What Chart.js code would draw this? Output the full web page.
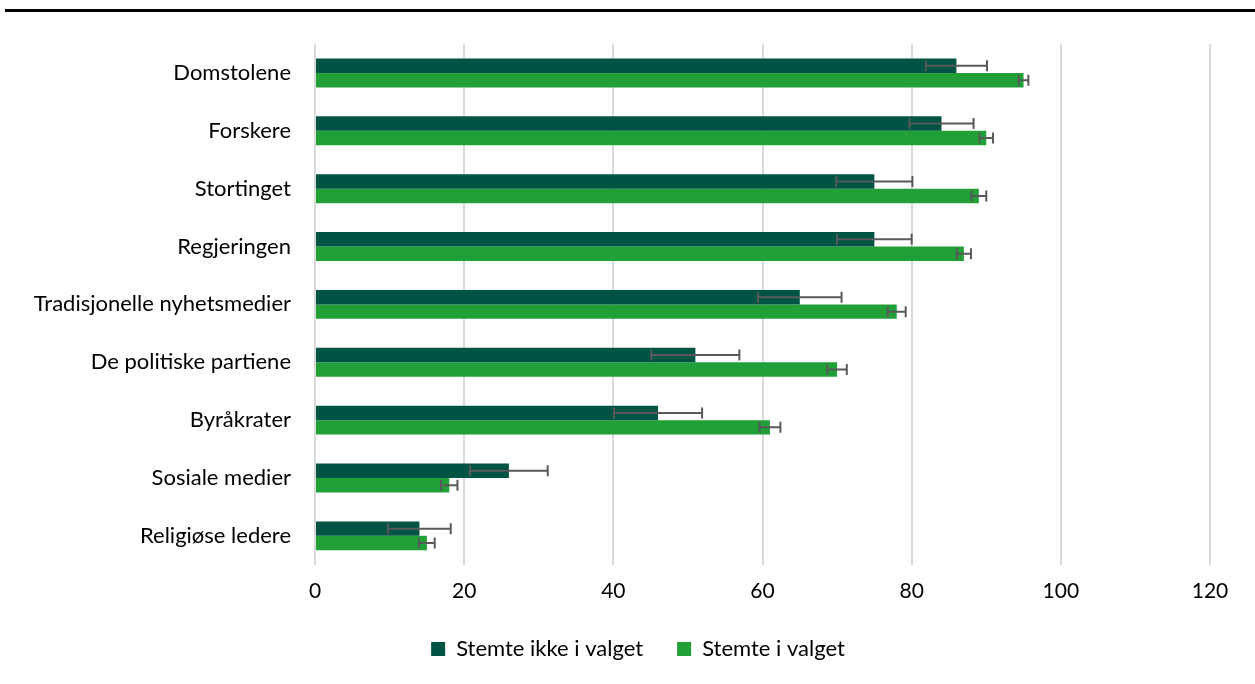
<!DOCTYPE html>
<html>
<head>
<meta charset="utf-8">
<style>
  html, body { margin: 0; padding: 0; background: #fff; }
  #wrap { position: relative; width: 1255px; height: 684px; }
</style>
<script src="https://cdn.jsdelivr.net/npm/chart.js@4.4.0/dist/chart.umd.min.js"></script>
</head>
<body>
<div id="wrap"><canvas id="chart" width="1255" height="684"></canvas></div>
<script>
// data
const categories = ['Domstolene', 'Forskere', 'Stortinget', 'Regjeringen', 'Tradisjonelle nyhetsmedier',
  'De politiske partiene', 'Byråkrater', 'Sosiale medier', 'Religiøse ledere'];
const ikkeStemt = [86, 84, 75, 75, 65, 51, 46, 26, 14];
const ikkeStemtErr = [4.1, 4.3, 5.1, 5.0, 5.6, 5.9, 5.9, 5.2, 4.2];
const stemt = [95, 90, 89, 87, 78, 70, 61, 18, 15];
const stemtErr = [0.65, 0.9, 1.0, 0.95, 1.2, 1.3, 1.4, 1.1, 1.05];
const xTicks = [0, 20, 40, 60, 80, 100, 120];

const fontFam = 'Lato, "Open Sans", sans-serif';

// tegner feilstolper for hver stolpe
const errorBars = {
  id: 'errorBars',
  afterDatasetsDraw(chart) {
    const ctx = chart.ctx;
    const x = chart.scales.x;
    chart.data.datasets.forEach((ds, i) => {
      const meta = chart.getDatasetMeta(i);
      meta.data.forEach((bar, j) => {
        const v = ds.data[j], e = ds.errors[j];
        const x1 = x.getPixelForValue(v - e);
        const x2 = x.getPixelForValue(v + e);
        const y = bar.y;
        ctx.save();
        ctx.strokeStyle = '#595959';
        ctx.lineWidth = 2;
        ctx.beginPath();
        ctx.moveTo(x1, y); ctx.lineTo(x2, y);
        ctx.moveTo(x1, y - 5.5); ctx.lineTo(x1, y + 5.5);
        ctx.moveTo(x2, y - 5.5); ctx.lineTo(x2, y + 5.5);
        ctx.stroke();
        ctx.restore();
      });
    });
  }
};

// svart linje øverst
const topRule = {
  id: 'topRule',
  beforeDraw(chart) {
    const ctx = chart.ctx;
    ctx.save();
    ctx.fillStyle = '#000';
    ctx.fillRect(5, 9, 1250, 3);
    ctx.restore();
  }
};

// flytter forklaringen litt opp og til høyre
const legendShift = {
  id: 'legendShift',
  afterLayout(chart) {
    const l = chart.legend;
    l.top -= 14; l.bottom -= 14;
    l.left += 33; l.right += 33;
  }
};

new Chart(document.getElementById('chart'), {
  type: 'bar',
  data: {
    labels: categories,
    datasets: [
      { label: 'Stemte ikke i valget', data: ikkeStemt, errors: ikkeStemtErr, backgroundColor: '#005443' },
      { label: 'Stemte i valget', data: stemt, errors: stemtErr, backgroundColor: '#21a038' }
    ]
  },
  options: {
    indexAxis: 'y',
    responsive: false,
    animation: false,
    devicePixelRatio: 1,
    categoryPercentage: 0.5,
    barPercentage: 1.0,
    layout: { padding: { top: 44, right: 45, bottom: 0, left: 0 } },
    scales: {
      x: {
        min: 0, max: 120,
        afterBuildTicks(scale) { scale.ticks = xTicks.map(v => ({ value: v })); },
        grid: { color: '#d9d9d9', lineWidth: 2, drawTicks: false },
        border: { display: false },
        ticks: { color: '#000', padding: 14, maxRotation: 0, autoSkip: false, font: { family: fontFam, size: 21 } }
      },
      y: {
        grid: { display: false, drawTicks: false },
        border: { display: false },
        afterFit(scale) { scale.width = 315; },
        ticks: { color: '#000', padding: 24, font: { family: fontFam, size: 22 } }
      }
    },
    plugins: {
      legend: {
        position: 'bottom',
        labels: {
          color: '#000', boxWidth: 14, boxHeight: 14, padding: 34,
          font: { family: fontFam, size: 22 }
        }
      },
      tooltip: { enabled: false }
    }
  },
  plugins: [errorBars, topRule, legendShift]
});
</script>
</body>
</html>
